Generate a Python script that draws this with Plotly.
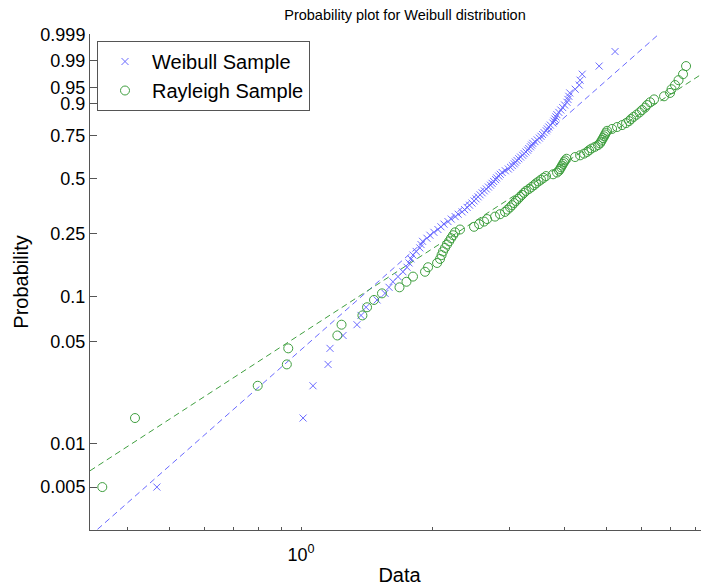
import numpy as np
import plotly.graph_objects as go

# ---------------- data ----------------
weibull_x = [
    0.468, 1.011, 1.065, 1.153, 1.165, 1.248, 1.343, 1.372, 1.409, 1.493,
    1.557, 1.590, 1.623, 1.667, 1.711, 1.748, 1.767, 1.785, 1.804, 1.834,
    1.870, 1.882, 1.897, 1.941, 1.972, 2.014, 2.057, 2.090, 2.124, 2.169,
    2.206, 2.253, 2.289, 2.337, 2.368, 2.399, 2.430, 2.462, 2.489, 2.515,
    2.542, 2.569, 2.597, 2.626, 2.654, 2.684, 2.714, 2.736, 2.759, 2.788,
    2.803, 2.834, 2.857, 2.886, 2.934, 2.981, 3.015, 3.045, 3.075, 3.095,
    3.12, 3.15, 3.18, 3.215, 3.24, 3.27, 3.30, 3.32, 3.35, 3.37,
    3.39, 3.43, 3.47, 3.51, 3.54, 3.57, 3.60, 3.64, 3.66, 3.69,
    3.72, 3.77, 3.79, 3.81, 3.83, 3.85, 3.89, 3.93, 3.97, 4.01,
    4.06, 4.08, 4.10, 4.12, 4.24, 4.33, 4.35, 4.40, 4.81, 5.23,
]
rayleigh_x = [
    0.351, 0.417, 0.796, 0.928, 0.935, 1.211, 1.238, 1.382, 1.416, 1.469,
    1.532, 1.680, 1.743, 1.804, 1.922, 1.953, 2.048, 2.080, 2.097, 2.113,
    2.135, 2.158, 2.182, 2.204, 2.228, 2.251, 2.311, 2.488, 2.555, 2.623,
    2.665, 2.779, 2.853, 2.929, 2.968, 3.008, 3.040, 3.072, 3.105, 3.138,
    3.170, 3.204, 3.238, 3.272, 3.324, 3.368, 3.413, 3.449, 3.495, 3.541,
    3.589, 3.636, 3.773, 3.853, 3.894, 3.914, 3.935, 3.956, 3.977, 3.998,
    4.019, 4.051, 4.237, 4.350, 4.443, 4.514, 4.561, 4.621, 4.707, 4.782,
    4.833, 4.859, 4.885, 4.911, 4.937, 4.963, 4.989, 5.015, 5.149, 5.286,
    5.428, 5.543, 5.631, 5.691, 5.767, 5.858, 5.951, 6.030, 6.126, 6.191,
    6.290, 6.424, 6.771, 6.988, 7.043, 7.174, 7.308, 7.483, 7.603, 8.49,
]
# reference lines: (scale, shape)
weibull_fit = [3.185, 2.677]
rayleigh_fit = [4.25, 1.968]

prob_ticks = [0.005, 0.01, 0.05, 0.1, 0.25, 0.5, 0.75, 0.9, 0.95, 0.99, 0.999]
prob_tick_labels = ["0.005", "0.01", "0.05", "0.1", "0.25", "0.5", "0.75",
                    "0.9", "0.95", "0.99", "0.999"]
x_major_vals = [1]
x_major_text = ["10<sup>0</sup>"]
x_minor_vals = [0.4, 0.5, 0.6, 0.7, 0.8, 0.9, 2, 3, 4, 5, 6, 7, 8]
x_range = [0.329, 8.58]
p_range = [0.00252, 0.99910]


def wtrans(p):
    p = np.asarray(p, dtype=float)
    return np.log(-np.log(1.0 - p))


def positions(n):
    return (np.arange(1, n + 1) - 0.5) / n


BLUE = "#6a6aff"
GREEN = "#3f9f3f"
FONT = "Liberation Sans, Arial, sans-serif"

fig = go.Figure()

xl = np.array(x_range)
for fit, col in [(weibull_fit, BLUE), (rayleigh_fit, GREEN)]:
    fig.add_trace(go.Scatter(
        x=xl, y=fit[1] * np.log(xl / fit[0]), mode="lines",
        line=dict(color=col, width=1, dash="6px,4px"),
        showlegend=False, hoverinfo="skip"))

fig.add_trace(go.Scatter(
    x=weibull_x, y=wtrans(positions(len(weibull_x))), mode="markers",
    name="Weibull Sample",
    marker=dict(symbol="x-thin-open", size=7, color=BLUE,
                line=dict(color=BLUE, width=1))))
fig.add_trace(go.Scatter(
    x=rayleigh_x, y=wtrans(positions(len(rayleigh_x))), mode="markers",
    name="Rayleigh Sample",
    marker=dict(symbol="circle-open", size=9, color=GREEN,
                line=dict(color=GREEN, width=1))))

# the page body adds an 8px offset; the figure is sized to fit the window
OFF = 8
W, H = 709 - OFF, 586 - OFF
L, R, T, B = 90 - OFF, 0, 34 - OFF, H - (530 - OFF)
PW, PH = W - L - R, H - T - B

fig.update_layout(
    width=W, height=H,
    margin=dict(l=L, r=R, t=T, b=B, pad=0, autoexpand=False),
    paper_bgcolor="white", plot_bgcolor="white",
    font=dict(family=FONT, color="black"),
    title=dict(text="Probability plot for Weibull distribution",
               x=(405 - OFF) / W, xanchor="center", xref="container",
               y=1 - (15 - OFF) / H, yanchor="middle",
               font=dict(size=14.5, family=FONT, color="black")),
    showlegend=True,
    legend=dict(x=(97 - OFF - L) / PW, y=(H - B - (41 - OFF)) / PH,
                xanchor="left", yanchor="top",
                bgcolor="white", bordercolor="#555555", borderwidth=1,
                font=dict(size=20, family=FONT, color="black"),
                itemwidth=44, tracegroupgap=0),
    xaxis=dict(type="log", range=[np.log10(x_range[0]), np.log10(x_range[1])],
               automargin=False,
               tickmode="array", tickvals=x_major_vals, ticktext=x_major_text,
               ticks="inside", ticklen=3, tickcolor="#555555",
               minor=dict(tickmode="array", tickvals=x_minor_vals,
                          ticks="inside", ticklen=3, tickcolor="#555555",
                          showgrid=False),
               ticklabelstandoff=8,
               showline=True, linecolor="#555555", linewidth=1,
               showgrid=False, zeroline=False,
               tickfont=dict(size=18, family=FONT),
               title=dict(text="Data", font=dict(size=20, family=FONT), standoff=4)),
    yaxis=dict(range=[float(wtrans(p_range[0])), float(wtrans(p_range[1]))],
               automargin=False,
               tickmode="array", tickvals=list(wtrans(prob_ticks)),
               ticktext=prob_tick_labels,
               ticks="inside", ticklen=7, tickcolor="#555555",
               showline=True, linecolor="#555555", linewidth=1,
               showgrid=False, zeroline=False,
               tickfont=dict(size=18, family=FONT),
               title=dict(text="Probability", font=dict(size=20, family=FONT), standoff=6)),
)

fig.write_html("out.html")
